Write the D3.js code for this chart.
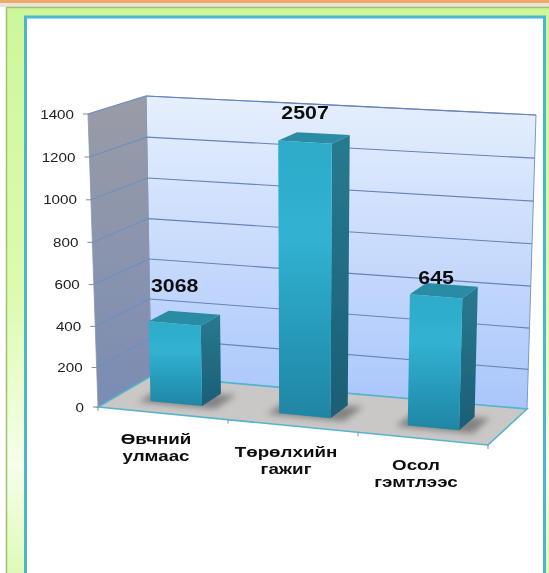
<!DOCTYPE html>
<html>
<head>
<meta charset="utf-8">
<script src="https://cdn.jsdelivr.net/npm/d3@7"></script>
<style>
  html, body { margin: 0; padding: 0; background: #fff; }
  svg { display: block; }
  text { font-family: "Liberation Sans", Arial, sans-serif; }
</style>
</head>
<body>
<div id="chart"></div>
<script>
const categories = ['Өвчний улмаас', 'Төрөлхийн гажиг', 'Осол гэмтлээс'];
const categoryLines = [['Өвчний', 'улмаас'], ['Төрөлхийн', 'гажиг'], ['Осол', 'гэмтлээс']];
const barValues = [400, 1300, 630];
const barLabels = ['3068', '2507', '645'];
const yTicks = [0, 200, 400, 600, 800, 1000, 1200, 1400];

const W = 549, H = 573;

const svg = d3.select('#chart').append('svg')
  .attr('width', W).attr('height', H)
  .attr('viewBox', `0 0 ${W} ${H}`);

const defs = svg.append('defs');

function gradient(id, stops) {
  const g = defs.append('linearGradient').attr('id', id)
    .attr('x1', 0).attr('y1', 0).attr('x2', 0).attr('y2', 1);
  stops.forEach(s => g.append('stop').attr('offset', s[0]).attr('stop-color', s[1]));
}

gradient('panelGrad', [[0, '#cdf79b'], [0.5, '#dcfbb0'], [0.8, '#f6ffea'], [1, '#dcfab4']]);
gradient('backWall', [[0, '#e6effd'], [1, '#a9c6fb']]);
gradient('sideWall', [[0, '#9a9ca6'], [1, '#7a8cb4']]);
gradient('barFront', [[0, '#2dabc9'], [0.35, '#31b2d2'], [1, '#1f85a4']]);
gradient('barSide', [[0, '#287a90'], [1, '#1a5e76']]);

defs.append('filter').attr('id', 'blurShadow')
  .attr('x', '-30%').attr('y', '-60%').attr('width', '160%').attr('height', '220%')
  .append('feGaussianBlur').attr('stdDeviation', 3);
defs.append('filter').attr('id', 'soft')
  .append('feGaussianBlur').attr('stdDeviation', 0.35);

// page background and the slide frame
svg.append('rect').attr('width', W).attr('height', 3).attr('fill', '#efa76a');
svg.append('rect').attr('y', 3).attr('width', W).attr('height', 4).attr('fill', '#e4e6dc');
svg.append('rect').attr('x', 6.5).attr('y', 7.5).attr('width', W).attr('height', H)
  .attr('fill', 'url(#panelGrad)').attr('stroke', '#a3c06a').attr('stroke-width', 1.5);
svg.append('rect').attr('x', 25.5).attr('y', 17).attr('width', 519).attr('height', H)
  .attr('fill', '#fff').attr('stroke', '#4bb6cf').attr('stroke-width', 3);

// corners of the 3D box: [front|back][left|right][bottom|top]
const corners = {
  flb: [98, 407], frb: [488, 445], blb: [151, 376], brb: [527, 409],
  flt: [88, 114], frt: [497, 140], blt: [146, 96], brt: [536, 115]
};

const xBand = d3.scaleBand().domain(categories).range([-0.005, 0.995]).paddingInner(0.6).paddingOuter(0.3);
const xEdge = d3.scaleBand().domain(categories).range([0, 1]);
// a touch of perspective: the upper gridlines sit further apart
const yVal = d3.scalePow().exponent(1.03).domain([0, 1400]).range([0, 1]);

// u along the categories, d into the depth of the box, v up the value axis
function project(u, d, v) {
  const mix = (a, b, t) => [a[0] + (b[0] - a[0]) * t, a[1] + (b[1] - a[1]) * t];
  const front = mix(mix(corners.flb, corners.frb, u), mix(corners.flt, corners.frt, u), v);
  const back = mix(mix(corners.blb, corners.brb, u), mix(corners.blt, corners.brt, u), v);
  return mix(front, back, d);
}

const line = d3.line();
const closed = pts => line(pts) + 'Z';

const chart = svg.append('g').attr('filter', 'url(#soft)');

// walls and floor
chart.append('path')
  .attr('d', closed([project(0, 1, 0), project(0, 1, 1), project(1, 1, 1), project(1, 1, 0)]))
  .attr('fill', 'url(#backWall)').attr('stroke', '#7f97c4').attr('stroke-width', 1);
chart.append('path')
  .attr('d', closed([project(0, 0, 0), project(0, 0, 1), project(0, 1, 1), project(0, 1, 0)]))
  .attr('fill', 'url(#sideWall)').attr('stroke', '#8b96ad').attr('stroke-width', 0.8);

// gridlines
yTicks.filter(t => t > 0).forEach(t => {
  chart.append('path')
    .attr('d', line([project(0, 0, yVal(t)), project(0, 1, yVal(t))]))
    .attr('fill', 'none').attr('stroke', '#6c8fc4').attr('stroke-width', 1.1);
  chart.append('path')
    .attr('d', line([project(0, 1, yVal(t)), project(1, 1, yVal(t))]))
    .attr('fill', 'none').attr('stroke', '#6783b4').attr('stroke-width', 1.1);
});

chart.append('path')
  .attr('d', closed([project(0, 0, 0), project(0, 1, 0), project(1, 1, 0), project(1, 0, 0)]))
  .attr('fill', '#c9c8c6').attr('stroke', '#55b4cc').attr('stroke-width', 1.6);

// axis ticks
yTicks.forEach(t => {
  const p = project(0, 0, yVal(t));
  chart.append('line')
    .attr('x1', p[0] - 5).attr('x2', p[0]).attr('y1', p[1]).attr('y2', p[1])
    .attr('stroke', '#8a8a8a').attr('stroke-width', 1);
  chart.append('text')
    .attr('transform', `translate(${p[0] - 14},${p[1] + 4.5}) scale(1.17,1)`)
    .attr('text-anchor', 'end').attr('font-size', 13).attr('fill', '#222')
    .text(t);
});

[0, 1 / 3, 2 / 3, 1].forEach(u => {
  const p = project(u, 0, 0);
  chart.append('line')
    .attr('x1', p[0]).attr('x2', p[0]).attr('y1', p[1]).attr('y2', p[1] + 4)
    .attr('stroke', '#8a8a8a').attr('stroke-width', 1);
});

// bars
const depth0 = 0.3, depth1 = 0.68;
const labelDy = [-31, -23, -12];

categories.forEach((c, i) => {
  const u0 = xBand(c), u1 = u0 + xBand.bandwidth();
  const v = yVal(barValues[i]);

  chart.append('path')
    .attr('d', closed([project(u0 - 0.025, depth0 - 0.05, 0), project(u1 + 0.04, depth0 - 0.05, 0),
      project(u1 + 0.04, depth1, 0), project(u0 - 0.025, depth1 - 0.1, 0)]))
    .attr('fill', '#3c3c3c').attr('opacity', 0.5).attr('filter', 'url(#blurShadow)');

  chart.append('path')
    .attr('d', closed([project(u1, depth0, 0), project(u1, depth0, v), project(u1, depth1, v), project(u1, depth1, 0)]))
    .attr('fill', 'url(#barSide)');
  chart.append('path')
    .attr('d', closed([project(u0, depth0, v), project(u1, depth0, v), project(u1, depth1, v), project(u0, depth1, v)]))
    .attr('fill', '#2a8ba4');
  chart.append('path')
    .attr('d', closed([project(u0, depth0, 0), project(u0, depth0, v), project(u1, depth0, v), project(u1, depth0, 0)]))
    .attr('fill', 'url(#barFront)');

  const top = project((u0 + u1) / 2, depth0, v);
  chart.append('text')
    .attr('transform', `translate(${top[0]},${top[1] + labelDy[i]}) scale(1.22,1)`)
    .attr('text-anchor', 'middle').attr('font-size', 17.5).attr('font-weight', 700).attr('fill', '#111')
    .text(barLabels[i]);

  const base = project(xEdge(c) + xEdge.bandwidth() / 2, 0, 0);
  categoryLines[i].forEach((s, k) => {
    chart.append('text')
      .attr('transform', `translate(${base[0] - 7},${base[1] + 31 + k * 17}) scale(1.34,1)`)
      .attr('text-anchor', 'middle').attr('font-size', 14).attr('font-weight', 700).attr('fill', '#111')
      .text(s);
  });
});
</script>
</body>
</html>
